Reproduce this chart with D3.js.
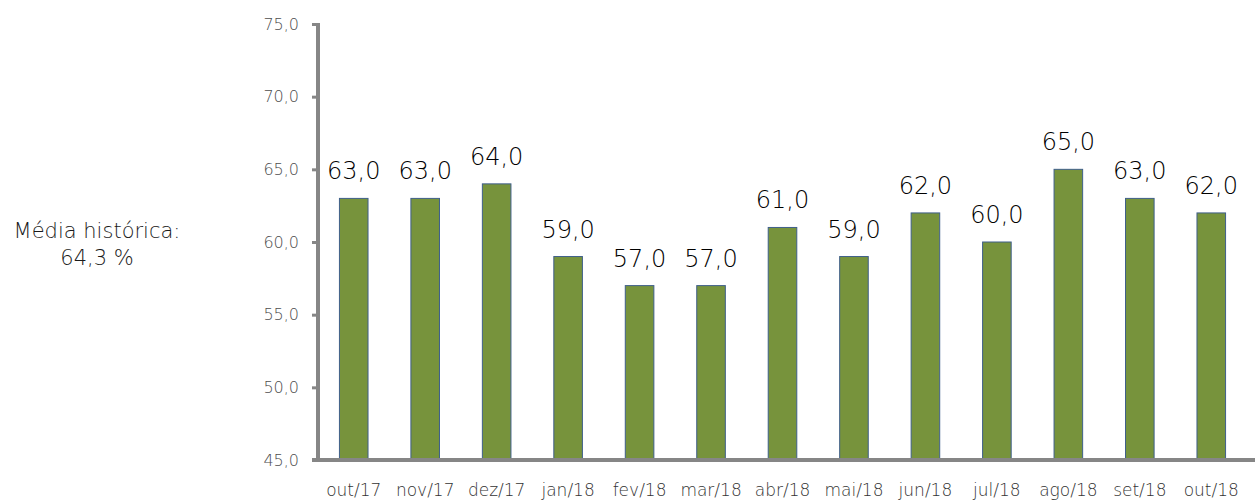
<!DOCTYPE html>
<html>
<head>
<meta charset="utf-8">
<script src="https://cdn.jsdelivr.net/npm/d3@7"></script>
<style>
  body { margin: 0; background: #fff; }
  svg { display: block; font-family: "DejaVu Sans", sans-serif; font-weight: 200; }
</style>
</head>
<body>
<svg width="1255" height="502"></svg>
<script>
var months = ["out/17", "nov/17", "dez/17", "jan/18", "fev/18", "mar/18", "abr/18",
	"mai/18", "jun/18", "jul/18", "ago/18", "set/18", "out/18"];
var values = [63, 63, 64, 59, 57, 57, 61, 59, 62, 60, 65, 63, 62];
var yTicks = [45, 50, 55, 60, 65, 70, 75];
var noteLines = ["Média histórica:", "64,3 %"];

var svg = d3.select("svg");
var margin = { top: 24, right: 4, bottom: 42, left: 318 },
	width = 1255 - margin.left - margin.right,
	height = 502 - margin.top - margin.bottom;

var fmt = function (v) { return d3.format(".1f")(v).replace(".", ","); };

var xScale = d3.scaleBand()
	.domain(months)
	.range([0, width - 4])
	.paddingInner(0.6)
	.paddingOuter(0.3);

var yScale = d3.scaleLinear()
	.domain([45, 75])
	.range([height, 0]);

var g = svg.append("g")
	.attr("transform", "translate(" + margin.left + "," + margin.top + ")");

// bars
g.selectAll(".bar")
	.data(values)
	.enter().append("rect")
		.attr("class", "bar")
		.attr("x", function (d, i) { return xScale(months[i]); })
		.attr("y", function (d) { return yScale(d); })
		.attr("width", xScale.bandwidth())
		.attr("height", function (d) { return height - yScale(d); })
		.attr("fill", "#77933c")
		.attr("stroke", "#3f5f8a")
		.attr("stroke-width", 1);

// value labels
g.selectAll(".val")
	.data(values)
	.enter().append("text")
		.attr("class", "val")
		.attr("x", function (d, i) { return xScale(months[i]) + xScale.bandwidth() / 2; })
		.attr("y", function (d) { return yScale(d) - 19; })
		.attr("text-anchor", "middle")
		.style("font-size", "24px")
		.style("fill", "#000")
		.text(fmt);

// y axis
var yAxis = d3.axisLeft(yScale)
	.tickValues(yTicks)
	.tickSize(6)
	.tickPadding(13)
	.tickFormat(fmt);

var yg = g.append("g").attr("class", "y axis").call(yAxis)
	.attr("font-family", null);
yg.select(".domain").remove();
yg.selectAll(".tick line").attr("stroke", "#868686").attr("stroke-width", 3);
yg.selectAll(".tick text").style("font-size", "16px").style("fill", "#4d4d4d");
yg.append("line")
	.attr("x1", 0).attr("x2", 0)
	.attr("y1", -1).attr("y2", height + 2)
	.attr("stroke", "#868686").attr("stroke-width", 4);

// x axis
var xAxis = d3.axisBottom(xScale).tickSize(0).tickPadding(24);
var xg = g.append("g")
	.attr("class", "x axis")
	.attr("transform", "translate(0," + height + ")")
	.call(xAxis)
	.attr("font-family", null);
xg.select(".domain").remove();
xg.selectAll(".tick text").style("font-size", "17px").style("fill", "#333");
xg.append("line")
	.attr("x1", -6).attr("x2", width + margin.right)
	.attr("y1", 0).attr("y2", 0)
	.attr("stroke", "#868686").attr("stroke-width", 4);

// side note
svg.append("g")
	.selectAll("text")
	.data(noteLines)
	.enter().append("text")
		.attr("x", 97)
		.attr("y", function (d, i) { return 238 + i * 27; })
		.attr("text-anchor", "middle")
		.style("font-size", "21px")
		.style("fill", "#1a1a1a")
		.text(function (d) { return d; });
</script>
</body>
</html>
